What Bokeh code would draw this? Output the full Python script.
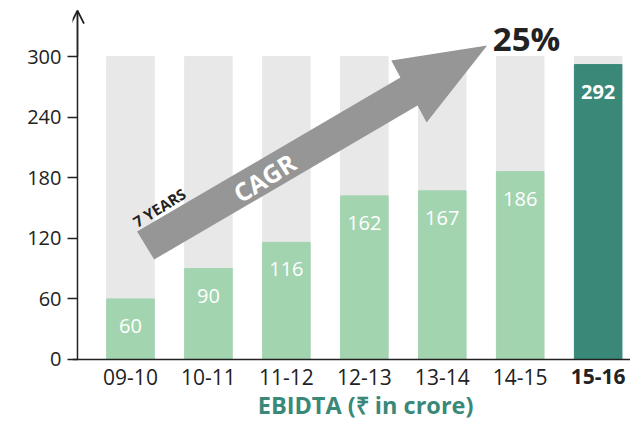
from bokeh.plotting import figure
from bokeh.models import (ColumnDataSource, Range1d, FixedTicker, Arrow,
                          OpenHead, Span)
from bokeh.core.properties import value
from bokeh.embed import file_html
from bokeh.resources import INLINE

# ---- data ----
periods = ["09-10", "10-11", "11-12", "12-13", "13-14", "14-15", "15-16"]
ebitda = [60, 90, 116, 162, 167, 186, 292]
band_max = [300, 300, 300, 300, 300, 300, 300]
y_ticks = [0, 60, 120, 180, 240, 300]
cagr_text = "25%"
title_text = "EBIDTA (\u20b9 in crore)"

FONT = "Open Sans"
GREEN = "#a3d4b0"
TEAL = "#3a8878"
GREY_BAND = "#e8e8e8"
DARK = "#222222"

xs = list(range(len(periods)))
colors = [GREEN] * (len(periods) - 1) + [TEAL]
label_styles = ["normal"] * (len(periods) - 1) + ["bold"]

src = ColumnDataSource(dict(x=xs, top=ebitda, band=band_max, color=colors,
                            lab=[str(v) for v in ebitda], style=label_styles,
                            cat=periods))

# plot area geometry (data-space limits)
X0, X1 = -0.744, 6.415
Y0, Y1 = -65.35, 351.5
AXIS_X = -0.680      # where the vertical axis line stands
AXIS_TOP = 345.5     # tip of the axis arrow

p = figure(width=630, height=425, output_backend="svg", toolbar_location=None,
           x_range=Range1d(X0, X1), y_range=Range1d(Y0, Y1),
           x_axis_location=None,
           min_border_left=72, min_border_right=0, min_border_top=4,
           min_border_bottom=0)
p.outline_line_color = None
p.grid.visible = False
p.background_fill_color = "white"
p.border_fill_color = "white"

# background bands and bars
p.vbar(x="x", top="band", width=0.61, color=GREY_BAND, source=src)
p.vbar(x="x", top="top", width=0.61, color="color", source=src)

# value labels
p.text(x="x", y="top", text="lab", source=src, text_color="white",
       text_font=value(FONT), text_font_size="20px", text_font_style="style",
       text_align="center", text_baseline="middle", y_offset=27)

# category labels under the baseline
p.text(x="x", y=-17.0, text="cat", source=src, text_color=DARK,
       text_font=value(FONT), text_font_size="21px", text_font_style="style",
       text_align="center", text_baseline="middle")

# chart title under the categories
p.text(x=[3.016], y=[-45.0], text=[title_text], text_color=TEAL,
       text_font=value(FONT), text_font_size="23.5px", text_font_style="bold",
       text_align="center", text_baseline="middle")

# CAGR arrow (decoration)
arrow_x = [0.084, 3.463, 3.346, 4.576, 3.799, 3.683, 0.304]
arrow_y = [126.7, 279.2, 296.0, 310.9, 234.7, 251.5, 99.0]
p.patch(arrow_x, arrow_y, color="#969696", line_color=None)

ang = 0.555
p.text(x=[1.715], y=[180.2], text=["CAGR"], angle=ang, text_color="white",
       text_font=value(FONT), text_font_size="25px", text_font_style="bold",
       text_align="center", text_baseline="middle")
p.text(x=[0.369], y=[150.5], text=["7 YEARS"], angle=ang, text_color=DARK,
       text_font=value(FONT), text_font_size="15px", text_font_style="bold",
       text_align="center", text_baseline="middle")
p.text(x=[5.081], y=[317.8], text=[cagr_text], text_color=DARK,
       text_font=value(FONT), text_font_size="33px", text_font_style="bold",
       text_align="center", text_baseline="middle")

# y axis (ticks and labels from the axis; its line drawn from 0 upward)
ya = p.yaxis[0]
ya.ticker = FixedTicker(ticks=y_ticks)
ya.axis_line_color = None
ya.major_tick_line_color = DARK
ya.major_tick_line_width = 1.5
ya.major_tick_in = 5
ya.major_tick_out = 5
ya.minor_tick_line_color = None
ya.major_label_text_font = FONT
ya.major_label_text_font_size = "20px"
ya.major_label_text_color = DARK
ya.major_label_standoff = 6

p.segment(x0=[AXIS_X], y0=[0], x1=[AXIS_X], y1=[AXIS_TOP],
          line_color=DARK, line_width=1.5)
p.add_layout(Arrow(end=OpenHead(size=13, line_width=1.8, line_color=DARK),
                   x_start=AXIS_X, y_start=300, x_end=AXIS_X, y_end=AXIS_TOP,
                   line_color=DARK, line_width=1.5))

# baseline (x axis line)
p.add_layout(Span(location=0, dimension="width", line_color=DARK,
                  line_width=1.5))

open("out.html", "w").write(file_html(p, INLINE))
